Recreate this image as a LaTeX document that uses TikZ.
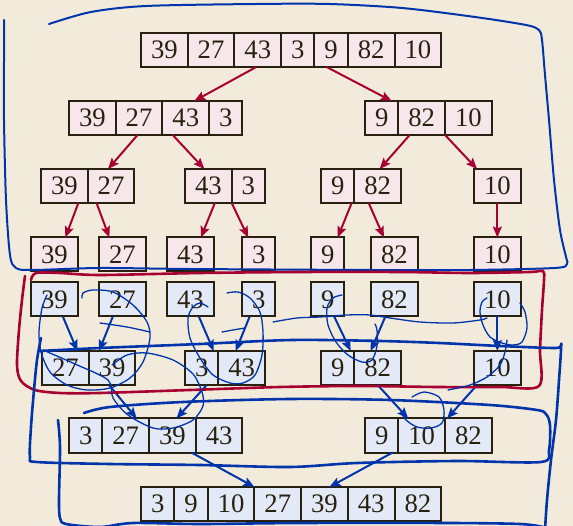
\documentclass[tikz,border=0pt]{standalone}
\usepackage{fontspec}
\setmainfont{Liberation Serif}
\usetikzlibrary{positioning,arrows.meta}
\definecolor{paper}{RGB}{242,235,219}
\definecolor{pinkcell}{RGB}{247,231,235}
\definecolor{bluecell}{RGB}{227,233,246}
\definecolor{ink}{RGB}{40,33,16}
\definecolor{splitred}{RGB}{168,0,50}
\definecolor{penblue}{RGB}{0,52,170}
\tikzset{
  cell/.style={draw=ink,line width=2pt,outer sep=0pt,minimum height=34pt,inner xsep=10pt,inner ysep=0pt,text=ink,font=\fontsize{26.7}{30}\selectfont},
  pcell/.style={cell,fill=pinkcell},
  bcell/.style={cell,fill=bluecell},
  split/.style={draw=splitred,line width=2pt,-{Stealth[length=11pt,width=9pt,inset=2pt]}},
  merge/.style={draw=penblue,line width=2pt,-{Stealth[length=11pt,width=9pt,inset=2pt]}},
  pen/.style={draw=penblue,line width=1.3pt,line cap=round,line join=round},
  thickpen/.style={pen,line width=2.6pt},
  redpen/.style={draw=splitred,line width=2.6pt,line cap=round,line join=round}
}
\begin{document}
\begin{tikzpicture}[x=1pt,y=-1pt]
  \fill[paper] (0,0) rectangle (573,526);
  \useasboundingbox (0,0) rectangle (573,526);
  % splitting
  \node[pcell,anchor=west] (a1) at (141,50) {39};
  \node[pcell,right=0pt of a1] (a2) {27};
  \node[pcell,right=0pt of a2] (a3) {43};
  \node[pcell,right=0pt of a3] (a4) {3};
  \node[pcell,right=0pt of a4] (a5) {9};
  \node[pcell,right=0pt of a5] (a6) {82};
  \node[pcell,right=0pt of a6] (a7) {10};
  \node[pcell,anchor=west] (b1) at (69,118) {39};
  \node[pcell,right=0pt of b1] (b2) {27};
  \node[pcell,right=0pt of b2] (b3) {43};
  \node[pcell,right=0pt of b3] (b4) {3};
  \node[pcell,anchor=west] (b5) at (365,118) {9};
  \node[pcell,right=0pt of b5] (b6) {82};
  \node[pcell,right=0pt of b6] (b7) {10};
  \node[pcell,anchor=west] (c1) at (41,186) {39};
  \node[pcell,right=0pt of c1] (c2) {27};
  \node[pcell,anchor=west] (c3) at (185,186) {43};
  \node[pcell,right=0pt of c3] (c4) {3};
  \node[pcell,anchor=west] (c5) at (321,186) {9};
  \node[pcell,right=0pt of c5] (c6) {82};
  \node[pcell,anchor=west] (c7) at (474,186) {10};
  \foreach \n/\x/\v in {1/31/39,2/99/27,3/167/43,4/242/3,5/311/9,6/371/82,7/474/10} {
    \node[pcell,anchor=west] (d\n) at (\x,254.5) {\v};
    \node[bcell,anchor=west] (e\n) at (\x,299.5) {\v};
  }
  % merging
  \node[bcell,anchor=west] (f1) at (42,368) {27};
  \node[bcell,right=0pt of f1] (f2) {39};
  \node[bcell,anchor=west] (f3) at (185,368) {3};
  \node[bcell,right=0pt of f3] (f4) {43};
  \node[bcell,anchor=west] (f5) at (321,368) {9};
  \node[bcell,right=0pt of f5] (f6) {82};
  \node[bcell,anchor=west] (f7) at (474,368) {10};
  \node[bcell,anchor=west] (g1) at (69,435.5) {3};
  \node[bcell,right=0pt of g1] (g2) {27};
  \node[bcell,right=0pt of g2] (g3) {39};
  \node[bcell,right=0pt of g3] (g4) {43};
  \node[bcell,anchor=west] (g5) at (365,435.5) {9};
  \node[bcell,right=0pt of g5] (g6) {10};
  \node[bcell,right=0pt of g6] (g7) {82};
  \node[bcell,anchor=west] (h1) at (141,504) {3};
  \node[bcell,right=0pt of h1] (h2) {9};
  \node[bcell,right=0pt of h2] (h3) {10};
  \node[bcell,right=0pt of h3] (h4) {27};
  \node[bcell,right=0pt of h4] (h5) {39};
  \node[bcell,right=0pt of h5] (h6) {43};
  \node[bcell,right=0pt of h6] (h7) {82};
  \draw[split] ([xshift=-1.5pt]a3.south) -- ([xshift=8.5pt]b3.north);
  \draw[split] ([xshift=-4.5pt]a5.south) -- ([xshift=10pt]b5.north);
  \draw[split] ([xshift=-1.5pt]b2.south) -- ([xshift=-3pt]c2.north);
  \draw[split] ([xshift=-13pt]b3.south) -- ([xshift=-4pt]c3.north);
  \draw[split] ([xshift=-12pt]b6.south) -- ([xshift=2pt]c6.north);
  \draw[split] (b7.south west) -- ([xshift=3pt]c7.north west);
  \draw[split] ([xshift=14pt]c1.south) -- ([xshift=11pt]d1.north);
  \draw[split] ([xshift=-14.5pt]c2.south) -- ([xshift=-13pt]d2.north);
  \draw[split] ([xshift=6.5pt]c3.south) -- ([xshift=10.5pt]d3.north);
  \draw[split] (c4.south west) -- ([xshift=-10.5pt]d4.north);
  \draw[split] ([xshift=14pt]c5.south) -- ([xshift=10pt]d5.north);
  \draw[split] ([xshift=-9pt]c6.south) -- ([xshift=-10.5pt]d6.north);
  \draw[split] (c7) -- (d7);
  \draw[merge] ([xshift=8.5pt]e1.south) -- ([xshift=12pt]f1.north);
  \draw[merge] ([xshift=-9.5pt]e2.south) -- ([xshift=-13pt]f2.north);
  \draw[merge] ([xshift=8.5pt]e3.south) -- ([xshift=12pt]f3.north);
  \draw[merge] ([xshift=-9pt]e4.south) -- ([xshift=-6pt]f4.north);
  \draw[merge] ([xshift=6.5pt]e5.south) -- ([xshift=13pt]f5.north);
  \draw[merge] ([xshift=-9pt]e6.south) -- ([xshift=-7pt]f6.north);
  \draw[merge] (e7) -- (f7);
  \draw[merge] ([xshift=-3pt]f2.south) -- ([xshift=11pt]g2.north);
  \draw[merge] ([xshift=5pt]f3.south) -- ([xshift=4pt]g3.north);
  \draw[merge] (f6.south) -- ([xshift=-13.5pt]g6.north);
  \draw[merge] ([xshift=3pt]f7.south west) -- ([xshift=2pt]g7.north west);
  \draw[merge] ([xshift=19pt]g3.south) -- (h4.north west);
  \draw[merge] ([xshift=11pt]g5.south) -- ([xshift=5pt]h5.north);
  % pen strokes
  \draw[pen,line width=2pt] plot[smooth] coordinates {(49,24) (91,12) (146,6) (256,4) (329,4) (402,8) (475,17) (526,25) (539,30) (542,40) (545,75) (549,120) (554,180) (560,230) (566,257) (567,264) (555,268) (470,270) (370,270) (190,269) (100,268) (33,270) (16,268) (10,255) (6,200) (4,120) (4,62) (4,20)};
  \draw[redpen] plot[smooth] coordinates {(31,280) (36,273) (60,273) (100,275) (200,273) (300,272) (400,272) (470,273) (530,272) (543,271) (544,280) (542,310) (540,350) (539,386) (500,387) (437,387) (360,386) (280,387) (190,390) (100,393) (60,393) (35,390) (21,381) (17,365) (19,330) (22,300) (25,276)};
  \draw[thickpen] plot[smooth] coordinates {(40,351) (100,348) (200,344) (292,340) (380,341) (439,343) (500,346) (556,348) (561,345) (559,380) (556,420) (551,460) (547,500) (545,530)};
  \draw[thickpen] plot[smooth] coordinates {(84,413) (110,407) (183,402) (290,399) (390,400) (490,405) (537,410) (546,414) (550,425) (549,450) (541,462) (457,461) (357,463) (290,467) (200,465) (110,464) (37,462) (30,457) (31,427) (34,390) (37,360) (41,338)};
  \draw[thickpen] plot[smooth] coordinates {(58,420) (60,447) (59,500) (60,518) (66,524) (100,527) (133,523) (200,524) (300,523) (450,523) (520,524) (543,527)};
  \draw[pen] plot[smooth] coordinates {(47,295) (42,308) (39,332) (41,352) (50,372) (67,385) (87,390) (110,388) (130,378) (143,362) (150,338) (147,322) (133,305) (113,292) (93,290) (83,293) (82,298)};
  \draw[pen] plot[smooth] coordinates {(100,323) (127,327) (150,332)};
  \draw[pen] plot[smooth] coordinates {(43,350) (75,364) (108,380) (113,398) (128,415) (153,428) (173,428) (193,420) (203,406) (202,392) (193,374) (173,360) (147,353) (127,355) (112,365)};
  \draw[pen] plot[smooth] coordinates {(208,307) (200,303) (193,307) (188,318) (190,338) (200,358) (213,375) (230,383) (243,383) (255,375) (262,355) (263,332) (260,312) (250,298) (238,292) (227,293)};
  \draw[pen] plot[smooth] coordinates {(222,332) (233,330) (245,328)};
  \draw[pen] plot[smooth] coordinates {(273,322) (297,318) (320,317) (347,315) (370,315) (390,318) (420,322) (453,323) (480,320) (487,318)};
  \draw[pen] plot[smooth] coordinates {(342,295) (333,298) (327,308) (328,325) (336,342) (348,355) (362,362) (372,360) (377,346) (377,330) (375,324)};
  \draw[pen] plot[smooth] coordinates {(487,298) (482,302) (480,312) (483,325) (490,337) (502,343) (513,345) (522,342) (527,328) (525,312) (520,303)};
  \draw[pen] plot[smooth] coordinates {(507,340) (505,352) (500,365) (487,377) (470,385) (448,390)};
  \draw[pen] plot[smooth] coordinates {(412,397) (424,392) (439,397) (444,410) (442,423) (431,428) (417,427) (406,420) (401,412)};
\end{tikzpicture}
\end{document}
